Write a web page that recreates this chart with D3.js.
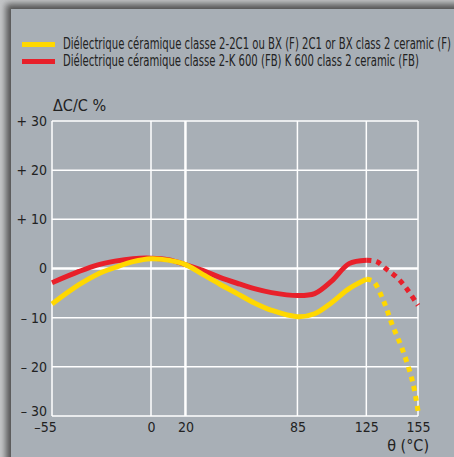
<!DOCTYPE html>
<html>
<head>
<meta charset="utf-8">
<script src="https://cdn.jsdelivr.net/npm/d3@7"></script>
<style>
  body { margin: 0; background: #c3c5c7; }
  svg { display: block; }
  text { font-family: "Liberation Sans Narrow", "DejaVu Sans Condensed", "Roboto", sans-serif; fill: #222; }
</style>
</head>
<body>
<svg></svg>
<script>
const size = {w: 454, h: 457};
const svg = d3.select('svg').attr('width', size.w).attr('height', size.h);

// ----- data -----
const legendLabels = [
    'Diélectrique céramique classe 2-2C1 ou BX (F) 2C1 or BX class 2 ceramic (F)',
    'Diélectrique céramique classe 2-K 600 (FB) K 600 class 2 ceramic (FB)'
];
const xTicks = [-55, 0, 20, 85, 125, 155];
const xTickLabels = ['–55', '0', '20', '85', '125', '155'];
const yTicks = [30, 20, 10, 0, -10, -20, -30];
const yTickLabels = ['+ 30', '+ 20', '+ 10', '0', '– 10', '– 20', '– 30'];

// solid part (-55 .. 125 °C)
const temps = [-55, -40, -30, -20, -10, 0, 10, 20, 30, 40, 50, 60, 70, 85, 95, 105, 115, 125];
const yellowVals = [-7.2, -3.3, -1.2, 0.2, 1.4, 2.0, 1.7, 0.8, -1.2, -3.2, -5.1, -7.0, -8.5, -9.8, -9.2, -6.9, -4.1, -2.2];
const redVals = [-2.9, -0.6, 0.7, 1.5, 2.0, 2.1, 1.8, 0.8, -0.4, -1.8, -3.0, -4.1, -4.9, -5.5, -5.1, -2.5, 1.0, 1.7];

// dotted part (125 .. 155 °C)
const yellowHotTemps = [125, 129, 135, 140, 146, 152, 155];
const yellowHotVals = [-2.2, -2.6, -6.6, -11.4, -16.5, -23.2, -29];
const redHotTemps = [125, 131, 137, 143, 148, 155];
const redHotVals = [1.7, 1.4, -0.2, -1.9, -3.9, -7.5];

const colors = {yellow: '#ffd800', red: '#e8202a'};

// ----- panel with shadow -----
const defs = svg.append('defs');
defs.append('filter').attr('id', 'blur')
    .attr('x', '-10%').attr('y', '-10%').attr('width', '120%').attr('height', '120%')
    .append('feGaussianBlur').attr('stdDeviation', 3);

svg.append('rect')
    .attr('x', 6).attr('y', 4).attr('width', 460).attr('height', 470)
    .attr('fill', '#555').attr('filter', 'url(#blur)');
svg.append('rect')
    .attr('x', 11).attr('y', 9).attr('width', 450).attr('height', 460)
    .attr('fill', '#a8afb6');

// ----- scales -----
// x axis is not quite linear left of 0 in the original
const x = d3.scaleLinear().domain([-55, 0, 155]).range([52, 151, 418]);
const y = d3.scaleLinear().domain([-30, 30]).range([416, 121]);

// ----- grid -----
const gridG = svg.append('g').attr('stroke', '#fff');
gridG.selectAll('line.h')
    .data(yTicks)
    .join('line').classed('h', true)
    .attr('x1', x(-55)).attr('x2', x(155))
    .attr('y1', d => y(d)).attr('y2', d => y(d))
    .attr('stroke-width', d => d === 0 ? 2.5 : 1.5);
gridG.selectAll('line.v')
    .data(xTicks)
    .join('line').classed('v', true)
    .attr('x1', d => x(d)).attr('x2', d => x(d))
    .attr('y1', y(30)).attr('y2', y(-30))
    .attr('stroke-width', d => d === 20 ? 2.5 : 1.5);

// ----- axes (labels only) -----
const yAxis = d3.axisLeft(y)
    .tickValues(yTicks)
    .tickSize(0)
    .tickPadding(5)
    .tickFormat((d, i) => yTickLabels[i]);
svg.append('g')
    .attr('transform', `translate(${x(-55)}, 0)`)
    .call(yAxis)
    .call(g => g.select('.domain').remove())
    .selectAll('text')
    .style('font-size', '14px')
    .attr('fill', '#222')
    .attr('y', d => d === -30 ? -5 : 0);  // bottom label sits a bit higher, over the -55

const xAxis = d3.axisBottom(x)
    .tickValues(xTicks)
    .tickSize(0)
    .tickPadding(6)
    .tickFormat((d, i) => xTickLabels[i]);
svg.append('g')
    .attr('transform', `translate(0, ${y(-30)})`)
    .call(xAxis)
    .call(g => g.select('.domain').remove())
    .selectAll('text')
    .style('font-size', '14px')
    .attr('fill', '#222')
    .attr('dx', d => d === -55 ? -7 : 0);

svg.append('text')
    .attr('x', 53).attr('y', 111)
    .style('font-size', '16px')
    .text('ΔC/C %');
svg.append('text')
    .attr('x', 429).attr('y', 451)
    .attr('text-anchor', 'end')
    .style('font-size', '16px')
    .text('θ (°C)');

// ----- curves -----
const line = d3.line()
    .x(d => x(d[0]))
    .y(d => y(d[1]))
    .curve(d3.curveCatmullRom.alpha(0.5));

const series = [
    {name: 'red', t: temps, v: redVals, ht: redHotTemps, hv: redHotVals},
    {name: 'yellow', t: temps, v: yellowVals, ht: yellowHotTemps, hv: yellowHotVals}
];

const curveG = svg.append('g').attr('fill', 'none').attr('stroke-width', 5);
series.forEach(s => {
    curveG.append('path')
        .attr('d', line(d3.zip(s.ht, s.hv)))
        .attr('stroke', colors[s.name])
        .attr('stroke-dasharray', '5,5');
    curveG.append('path')
        .attr('d', line(d3.zip(s.t, s.v)))
        .attr('stroke', colors[s.name]);
});

// ----- legend -----
// the original font is a narrow one, so squeeze each row horizontally to its width
const legendG = svg.append('g').classed('legend', true);
const legendRows = [
    {color: colors.yellow, label: legendLabels[0], len: 388},
    {color: colors.red, label: legendLabels[1], len: 356}
];
legendG.selectAll('rect')
    .data(legendRows)
    .join('rect')
    .attr('x', 22).attr('y', (d, i) => 42 + i * 17)
    .attr('width', 33).attr('height', 5)
    .attr('fill', d => d.color);
legendG.selectAll('g.row')
    .data(legendRows)
    .join('g').classed('row', true)
    .each(function(d, i) {
        const g = d3.select(this);
        const t = g.append('text')
            .attr('x', 0).attr('y', 0)
            .style('font-size', '15px')
            .text(d.label);
        const k = d.len / t.node().getComputedTextLength();
        g.attr('transform', `translate(63, ${49 + i * 17}) scale(${k}, 1)`);
    });
</script>
</body>
</html>
